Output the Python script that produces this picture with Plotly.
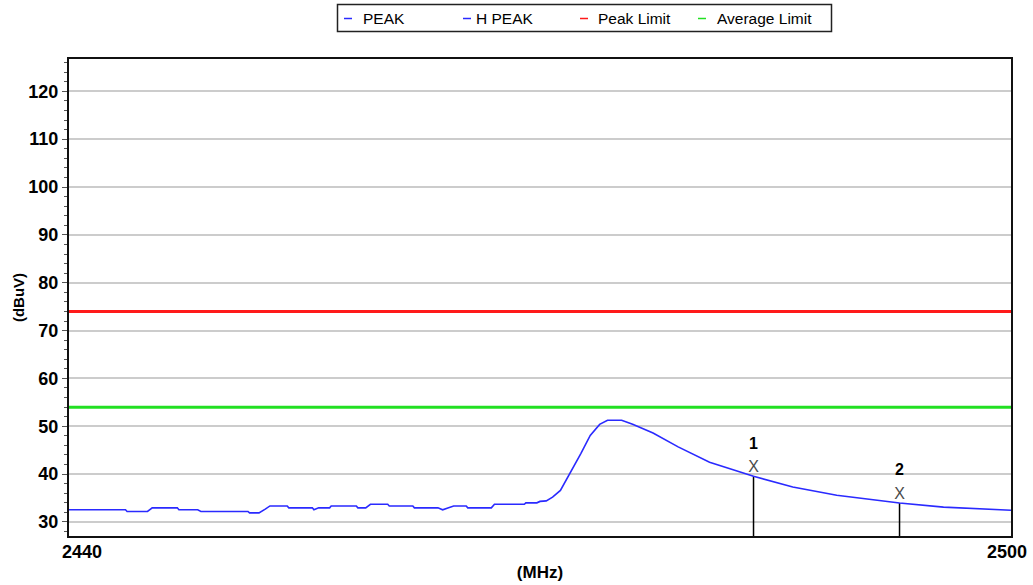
import plotly.graph_objects as go

# ---------------- data ----------------
freq_mhz = [2440.0, 2442.1, 2442.2, 2443.6, 2443.7, 2445.0, 2445.3, 2446.9, 2447.0, 2448.2,
            2448.4, 2451.4, 2451.5, 2452.1, 2452.5, 2452.8, 2453.9, 2454.0, 2455.5, 2455.6,
            2455.9, 2456.6, 2456.7, 2458.3, 2458.4, 2458.9, 2459.2, 2460.3, 2460.4, 2461.9,
            2462.0, 2463.5, 2463.8, 2464.5, 2465.3, 2465.4, 2466.9, 2467.1, 2469.0, 2469.1,
            2469.8, 2470.0, 2470.4, 2470.8, 2471.3, 2471.9, 2472.6, 2473.2, 2473.8, 2474.3,
            2475.2, 2475.9, 2477.2, 2478.8, 2480.8, 2483.6, 2486.1, 2488.9, 2492.9, 2495.7,
            2498.9, 2500.0]
peak_dbuv = [32.55, 32.55, 32.55, 32.55, 32.2, 32.2, 32.95, 32.95, 32.55, 32.55,
             32.2, 32.2, 31.9, 31.9, 32.7, 33.35, 33.35, 32.95, 32.95, 32.55,
             32.95, 32.95, 33.35, 33.35, 32.95, 32.95, 33.7, 33.7, 33.35, 33.35,
             32.95, 32.95, 32.55, 33.35, 33.35, 32.95, 32.95, 33.7, 33.7, 34.0,
             34.0, 34.3, 34.4, 35.2, 36.6, 40.1, 44.3, 48.1, 50.4, 51.25,
             51.25, 50.4, 48.6, 45.7, 42.5, 39.55, 37.3, 35.6, 33.97, 33.1,
             32.5, 32.45]

series_names = ["PEAK", "H PEAK", "Peak Limit", "Average Limit"]
series_colors = ["#2a2aff", "#2a2aff", "#ff1a1a", "#22e022"]
peak_limit = 74.0
average_limit = 54.0

marker_labels = ["1", "2"]
marker_freqs = [2483.6, 2492.9]
marker_levels = [39.55, 33.97]

x_tick_vals = [2440, 2500]
x_tick_text = ["2440", "2500"]
y_tick_vals = [30, 40, 50, 60, 70, 80, 90, 100, 110, 120]

x_title = "(MHz)"
y_title = "(dBuV)"

X_RANGE = [2440, 2500]
Y_RANGE = [27.07, 126.75]

FONT = "Arial, Liberation Sans"

# ---------------- figure ----------------
fig = go.Figure()

# limits
fig.add_trace(go.Scatter(x=X_RANGE, y=[peak_limit, peak_limit], mode="lines",
                         line=dict(color=series_colors[2], width=3), name=series_names[2],
                         showlegend=False, hoverinfo="skip"))
fig.add_trace(go.Scatter(x=X_RANGE, y=[average_limit, average_limit], mode="lines",
                         line=dict(color=series_colors[3], width=3), name=series_names[3],
                         showlegend=False, hoverinfo="skip"))

# marker stems
stem_x, stem_y = [], []
for f, v in zip(marker_freqs, marker_levels):
    stem_x += [f, f, None]
    stem_y += [Y_RANGE[0], v, None]
fig.add_trace(go.Scatter(x=stem_x, y=stem_y, mode="lines",
                         line=dict(color="black", width=1.5), showlegend=False, hoverinfo="skip"))

# PEAK curve
fig.add_trace(go.Scatter(x=freq_mhz, y=peak_dbuv, mode="lines",
                         line=dict(color=series_colors[0], width=1.6), name=series_names[0],
                         showlegend=False))
# H PEAK (no visible data)
fig.add_trace(go.Scatter(x=[], y=[], mode="lines", line=dict(color=series_colors[1]),
                         name=series_names[1], showlegend=False))

# marker X glyphs
fig.add_trace(go.Scatter(x=marker_freqs, y=marker_levels, mode="text", text=["X"] * len(marker_freqs),
                         textposition="top center",
                         textfont=dict(family=FONT, size=16, color="#4a4a4a"),
                         showlegend=False, hoverinfo="skip"))

# marker numbers
for lab, f, v in zip(marker_labels, marker_freqs, marker_levels):
    fig.add_annotation(x=f, y=v, xref="x", yref="y", text="<b>%s</b>" % lab, showarrow=False,
                       yshift=33, font=dict(family=FONT, size=16, color="black"))

# x tick labels (offset like the original instrument software)
x_label_shift = [13, -4]
for val, txt, sh in zip(x_tick_vals, x_tick_text, x_label_shift):
    fig.add_annotation(x=val, y=0, xref="x", yref="paper", text="<b>%s</b>" % txt,
                       showarrow=False, xanchor="center", yanchor="middle",
                       xshift=sh, yshift=-16, font=dict(family=FONT, size=18, color="black"))

# ---------------- manual legend ----------------
L, T, W, H = 69, 59, 942, 477
def px(xp):
    return (xp - L) / W
def py(yp):
    return (T + H - yp) / H

fig.add_shape(type="rect", xref="paper", yref="paper",
              x0=px(337.5), x1=px(831.5), y0=py(31.5), y1=py(4.5),
              line=dict(color="#222", width=1.5), fillcolor="white")
legend_line_x = [344, 463, 580, 698]
legend_text_x = [361, 474, 596, 715]
for name, col, lx, tx in zip(series_names, series_colors, legend_line_x, legend_text_x):
    fig.add_shape(type="line", xref="paper", yref="paper",
                  x0=px(lx), x1=px(lx + 8), y0=py(18.5), y1=py(18.5),
                  line=dict(color=col, width=1.5))
    fig.add_annotation(xref="paper", yref="paper", x=px(tx), y=py(18.5), text=name,
                       showarrow=False, xanchor="left", yanchor="middle",
                       font=dict(family=FONT, size=15.5, color="black"))

fig.update_layout(
    width=1033, height=585,
    margin=dict(l=L, r=1033 - L - W, t=T, b=585 - T - H, autoexpand=False),
    paper_bgcolor="white", plot_bgcolor="white",
    showlegend=False,
    font=dict(family=FONT, color="black"),
)
fig.update_xaxes(
    range=X_RANGE, tickvals=x_tick_vals, showticklabels=False,
    showgrid=False, zeroline=False, automargin=False,
    showline=True, linecolor="#111", linewidth=2, mirror=True,
    ticks="",
    title=dict(text="<b>%s</b>" % x_title, standoff=29,
               font=dict(family=FONT, size=17, color="black")),
)
fig.update_yaxes(
    range=Y_RANGE, tickvals=y_tick_vals, automargin=False,
    showgrid=True, gridcolor="#cccccc", gridwidth=1.5, zeroline=False,
    showline=True, linecolor="#111", linewidth=2, mirror=True,
    ticks="outside", ticklen=5, tickcolor="#555", tickwidth=1,
    minor=dict(dtick=2, ticks="outside", ticklen=3, tickcolor="#555", showgrid=False),
    tickfont=dict(family=FONT, size=18, color="black", weight="bold"),
    title=dict(text="<b>%s</b>" % y_title, standoff=0,
               font=dict(family=FONT, size=15, color="black")),
)

fig.write_html("out.html", config={"displayModeBar": False},
               post_script="document.body.style.margin='0';")
